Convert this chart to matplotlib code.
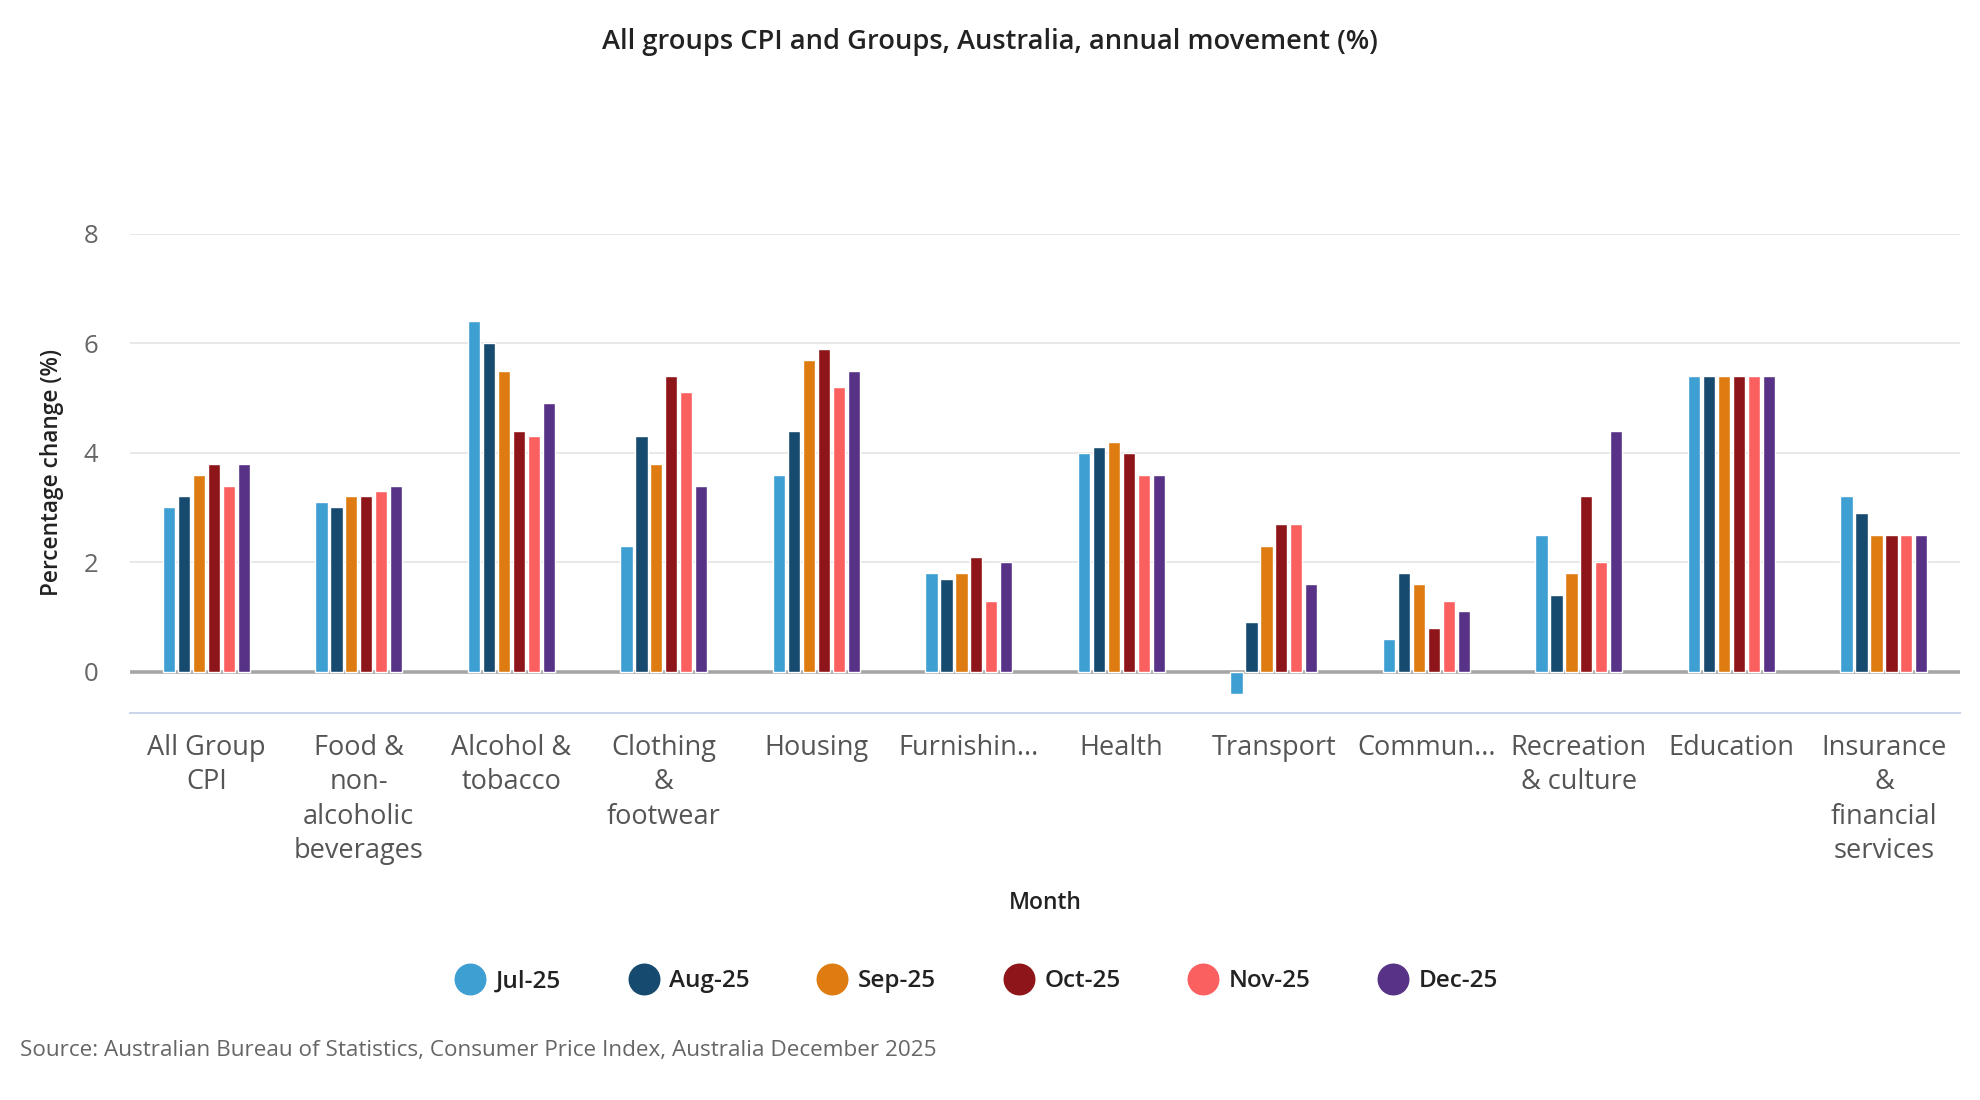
import matplotlib
matplotlib.use("Agg")
import matplotlib.pyplot as plt
import numpy as np
from matplotlib.lines import Line2D

plt.rcParams['font.family'] = ['Open Sans', 'DejaVu Sans']

categories = ["All Group\nCPI", "Food &\nnon-\nalcoholic\nbeverages", "Alcohol &\ntobacco",
              "Clothing\n&\nfootwear", "Housing", "Furnishin...", "Health", "Transport",
              "Commun...", "Recreation\n& culture", "Education",
              "Insurance\n&\nfinancial\nservices"]
series_names = ["Jul-25", "Aug-25", "Sep-25", "Oct-25", "Nov-25", "Dec-25"]
jul = [3.0, 3.1, 6.4, 2.3, 3.6, 1.8, 4.0, -0.4, 0.6, 2.5, 5.4, 3.2]
aug = [3.2, 3.0, 6.0, 4.3, 4.4, 1.7, 4.1, 0.9, 1.8, 1.4, 5.4, 2.9]
sep = [3.6, 3.2, 5.5, 3.8, 5.7, 1.8, 4.2, 2.3, 1.6, 1.8, 5.4, 2.5]
oct_ = [3.8, 3.2, 4.4, 5.4, 5.9, 2.1, 4.0, 2.7, 0.8, 3.2, 5.4, 2.5]
nov = [3.4, 3.3, 4.3, 5.1, 5.2, 1.3, 3.6, 2.7, 1.3, 2.0, 5.4, 2.5]
dec = [3.8, 3.4, 4.9, 3.4, 5.5, 2.0, 3.6, 1.6, 1.1, 4.4, 5.4, 2.5]
colors = ["#3E9FD3", "#164A6E", "#DE7C12", "#8E1519", "#FA6060", "#573286"]
yticks = [0, 2, 4, 6, 8]

series = [jul, aug, sep, oct_, nov, dec]

fig = plt.figure(figsize=(19.8, 11), dpi=100)
ax = fig.add_axes([0.0657, 0.3515, 0.9243, 0.4361])

n = len(categories)
x = np.arange(n)
slot = 0.098
bw = 0.080
for i, (vals, c) in enumerate(zip(series, colors)):
    offs = (i - 2.5) * slot
    ax.bar(x + offs, vals, width=bw, color=c, edgecolor="white", linewidth=1.0, zorder=3)

ax.axhline(0, color="#A6A6A6", linewidth=2.6, zorder=2)
ax.set_xlim(-0.5, n - 0.5)
ax.set_ylim(-0.76, 8.0)
ax.set_yticks(yticks)
ax.set_yticklabels([str(t) for t in yticks])
ax.grid(axis="y", color="#E6E6E6", linewidth=1.3, zorder=0)
ax.set_axisbelow(True)
for s in ["top", "right", "left"]:
    ax.spines[s].set_visible(False)
ax.spines["bottom"].set_color("#CCD6EB")
ax.spines["bottom"].set_linewidth(1.5)
ax.tick_params(axis="y", length=0, pad=23, labelsize=18.5, labelcolor="#666666")
ax.tick_params(axis="x", length=0, pad=15, labelsize=19.5, labelcolor="#555555")
ax.set_xticks(x)
ax.set_xticklabels(categories, linespacing=1.3)

fig.text(0.5, 0.9618, "All groups CPI and Groups, Australia, annual movement (%)",
         ha="center", va="center", fontsize=19.6, fontweight="semibold", color="#222222")
fig.text(0.0265, 0.57, "Percentage change (%)", rotation=90, ha="center", va="center",
         fontsize=16.3, fontweight="semibold", color="#222222")
fig.text(0.528, 0.179, "Month", ha="center", va="center", fontsize=16.5,
         fontweight="semibold", color="#222222")
fig.text(0.0101, 0.045, "Source: Australian Bureau of Statistics, Consumer Price Index, Australia December 2025",
         ha="left", va="center", fontsize=16.2, color="#666666")

handles = [Line2D([0], [0], marker="o", linestyle="none", markersize=22,
                  markerfacecolor=c, markeredgecolor=c) for c in colors]
leg = fig.legend(handles, series_names, loc="center", bbox_to_anchor=(0.494, 0.108),
                 ncol=6, frameon=False, fontsize=17.5, handletextpad=0.55,
                 columnspacing=2.9, handlelength=1.0)
for t in leg.get_texts():
    t.set_fontweight("semibold")
    t.set_color("#222222")

fig.savefig("out.png", dpi=100, facecolor="white")
